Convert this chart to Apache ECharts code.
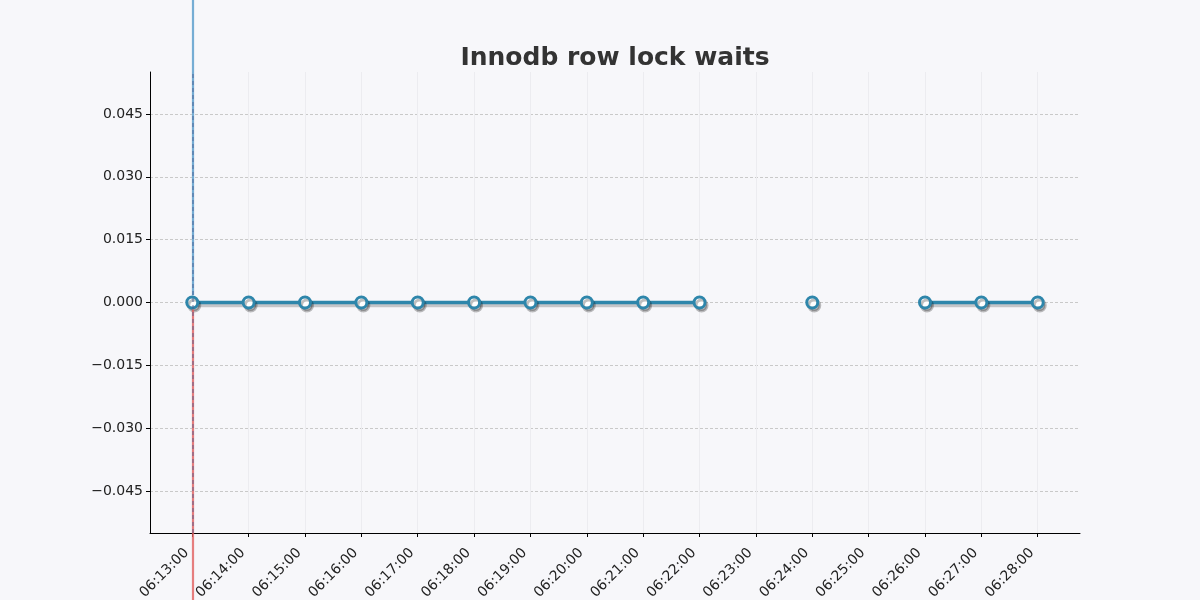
<!DOCTYPE html>
<html>
<head>
<meta charset="utf-8">
<script src="https://cdn.jsdelivr.net/npm/echarts@6/dist/echarts.min.js"></script>
<style>
html,body{margin:0;padding:0;background:#f7f7fa;}
#c{width:1200px;height:600px;}
</style>
</head>
<body>
<div id="c"></div>
<script>
const times = ['06:13:00','06:14:00','06:15:00','06:16:00','06:17:00','06:18:00','06:19:00','06:20:00',
  '06:21:00','06:22:00','06:23:00','06:24:00','06:25:00','06:26:00','06:27:00','06:28:00'];
const waits = [0,0,0,0,0,0,0,0,0,0,null,0,null,0,0,0];
const yTicks = [-0.045,-0.03,-0.015,0,0.015,0.03,0.045];
const markTime = '06:13:00';

const toMin = t => { const p = t.split(':'); return (+p[0]) * 60 + (+p[1]) - 360; };
const xs = times.map(toMin);
const xMin = xs[0] - (xs[xs.length-1] - xs[0]) * 0.05;
const xMax = xs[xs.length-1] + (xs[xs.length-1] - xs[0]) * 0.05;
const fmtX = v => { const i = xs.indexOf(Math.round(v)); return i >= 0 ? times[i] : ''; };
const fmtY = v => { const s = Math.abs(v).toFixed(3); return (v < -1e-12 ? '\u2212' : '') + s; };
const lineData = xs.map((x, i) => [x, waits[i]]);
const mx = toMin(markTime);

const FONT = 'DejaVu Sans';
const chart = echarts.init(document.getElementById('c'));
chart.setOption({
  backgroundColor: '#f7f7fa',
  animation: false,
  title: {
    text: 'Innodb row lock waits', left: 610, textAlign: 'center', top: 41,
    textStyle: {fontFamily: FONT, fontSize: 25, fontWeight: 'bold', color: '#333'}
  },
  grid: [
    {left: 150, right: 120, top: 72, bottom: 67, containLabel: false, outerBoundsMode: 'none'},
    {left: 150, right: 120, top: 0, bottom: 0, show: false, containLabel: false, outerBoundsMode: 'none'}
  ],
  xAxis: [{
    type: 'value', gridIndex: 0, min: xMin, max: xMax,
    axisLine: {show: true, onZero: false, lineStyle: {color: '#000', width: 1}},
    axisTick: {show: true, length: 4, lineStyle: {color: '#000'}, customValues: xs},
    axisLabel: {customValues: xs, formatter: fmtX, rotate: 45, margin: 12, padding: [0, 8, 0, 0],
      fontFamily: FONT, fontSize: 14, color: '#222'},
    splitLine: {show: true, lineStyle: {color: '#ececf0', width: 1}}
  }, {
    type: 'value', gridIndex: 1, min: xMin, max: xMax, show: false
  }],
  yAxis: [{
    type: 'value', gridIndex: 0, min: -0.055, max: 0.055,
    axisLine: {show: true, lineStyle: {color: '#000', width: 1}},
    axisTick: {show: true, length: 4, lineStyle: {color: '#000'}, customValues: yTicks},
    axisLabel: {customValues: yTicks, formatter: fmtY, margin: 7,
      fontFamily: FONT, fontSize: 14, color: '#222'},
    splitLine: {show: true, lineStyle: {color: '#bdbdbd', width: 0.8, type: [3, 2]}}
  }, {
    type: 'value', gridIndex: 1, show: false,
    min: -0.055 - 67 / 4200, max: 0.055 + 72 / 4200
  }],
  series: [{
    type: 'line', xAxisIndex: 1, yAxisIndex: 1, data: [], z: 5, silent: true,
    markLine: {
      silent: true, symbol: ['none', 'arrow'], symbolSize: [0, 11], label: {show: false},
      data: [
        [{coord: [mx, 0.055 + 72 / 4200], lineStyle: {color: 'rgba(95,160,205,0.85)', width: 2.2, type: 'solid'}},
         {coord: [mx, 0.0017]}],
        [{coord: [mx, -0.055 - 67 / 4200], lineStyle: {color: 'rgba(225,95,95,0.8)', width: 2.2, type: 'solid'}},
         {coord: [mx, -0.0017]}]
      ]
    }
  }, {
    type: 'line', xAxisIndex: 0, yAxisIndex: 0, data: lineData, z: 3,
    connectNulls: false, showAllSymbol: true,
    symbol: 'circle', symbolSize: 11,
    lineStyle: {color: '#2e86ab', width: 3.5, shadowColor: 'rgba(0,0,0,0.2)', shadowOffsetX: 2, shadowOffsetY: 3, shadowBlur: 0},
    itemStyle: {color: '#fff', borderColor: '#2e86ab', borderWidth: 3,
      shadowColor: 'rgba(0,0,0,0.25)', shadowOffsetX: 2, shadowOffsetY: 3, shadowBlur: 0},
    emphasis: {disabled: true},
    markLine: {
      silent: true, symbol: ['none', 'none'], label: {show: false},
      lineStyle: {color: 'rgba(70,90,140,0.55)', width: 1.5, type: [4, 3]},
      data: [{xAxis: mx}]
    }
  }]
});
</script>
</body>
</html>
